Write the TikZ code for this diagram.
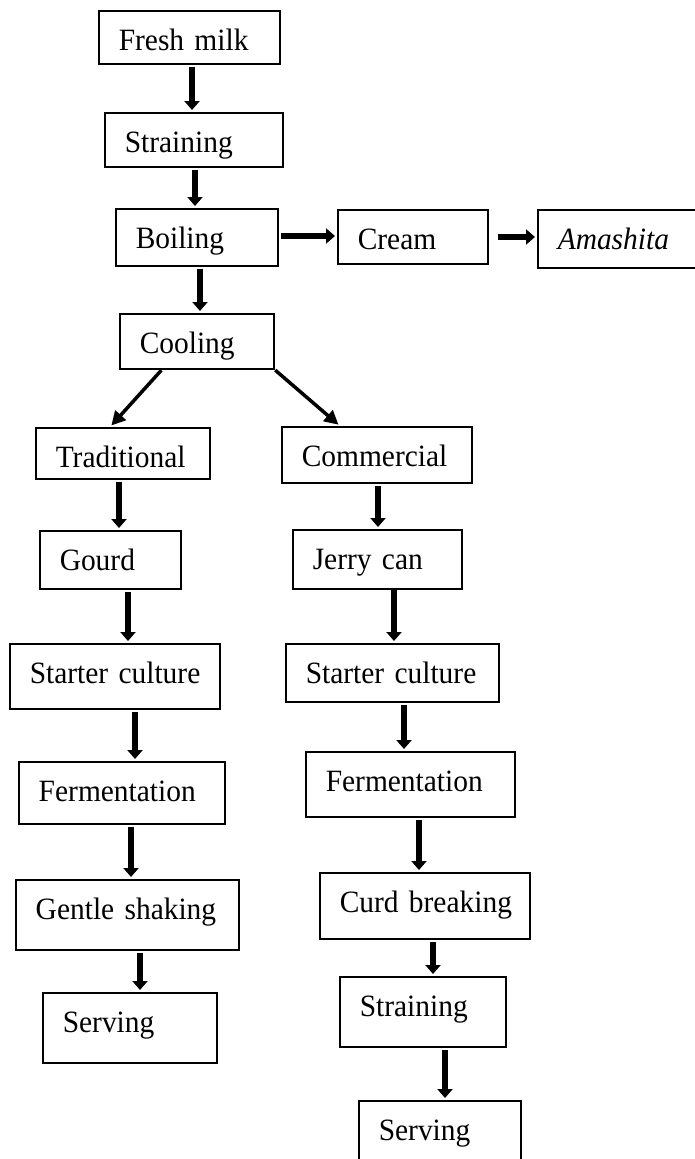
\documentclass[tikz,border=0pt]{standalone}
\usepackage{fontspec}
\setmainfont{Liberation Serif}[FakeStretch=0.95]
\usepackage{tikz}
\usetikzlibrary{arrows.meta}

\tikzset{
  box/.style 2 args={draw, line width=1.5pt, inner sep=0pt, anchor=north west,
    align=left, text width=#1, text height=40pt, text depth=#2,
    font=\fontsize{31}{36}\selectfont, execute at begin node={\hspace*{20pt}}},
  arr/.style={line width=6.5pt, -{Triangle[width=15pt,length=9pt]},
    shorten <=2pt, shorten >=2pt},
  diag/.style={line width=3.5pt, -{Triangle[width=14pt,length=14pt]},
    shorten <=1pt, shorten >=2pt}
}

\begin{document}
\begin{tikzpicture}[x=1pt, y=-1pt]
\useasboundingbox (0, 0) rectangle (694, 1159);
\node [box={181pt}{13pt}] (fresh) at (98, 10) {Fresh milk};
\node [box={178pt}{14pt}] (strain) at (104, 112) {Straining};
\node [box={162pt}{17pt}] (boil) at (115, 208) {Boiling};
\node [box={150pt}{14pt}] (cream) at (337, 209) {Cream};
\node [box={170pt}{18pt}] (amash) at (537, 209) {\itshape Amashita};
\node [box={154pt}{15pt}] (cool) at (119, 313) {Cooling};
\node [box={174pt}{11pt}] (trad) at (35, 427) {Traditional};
\node [box={190pt}{16pt}] (comm) at (281, 426) {Commercial};
\node [box={141pt}{18pt}] (gourd) at (39, 530) {Gourd};
\node [box={169pt}{19pt}] (jerry) at (292, 529) {Jerry can};
\node [box={210pt}{25pt}] (startL) at (9, 643) {Starter culture};
\node [box={213pt}{18pt}] (startR) at (285, 643) {Starter culture};
\node [box={206pt}{22pt}] (fermL) at (18, 761) {Fermentation};
\node [box={209pt}{25pt}] (fermR) at (305, 751) {Fermentation};
\node [box={223pt}{30pt}] (shake) at (15, 879) {Gentle shaking};
\node [box={210pt}{26pt}] (curd) at (319, 872) {Curd breaking};
\node [box={174pt}{30pt}] (serveL) at (42, 992) {Serving};
\node [box={166pt}{30pt}] (strainR) at (339, 976) {Straining};
\node [box={162pt}{35pt}] (serveR) at (358, 1100) {Serving};
\draw [arr] (fresh.south -| 192,0) -- (strain.north -| 192,0);
\draw [arr] (strain.south -| 195,0) -- (boil.north -| 195,0);
\draw [arr] (boil.south -| 200,0) -- (cool.north -| 200,0);
\draw [arr] (boil.east |- 0,236) -- (cream.west |- 0,236);
\draw [arr] ([xshift=7pt]cream.east |- 0,237) -- (amash.west |- 0,237);
\draw [diag] (cool.south -| 162,0) -- (trad.north -| 110,0);
\draw [diag] (cool.south east) -- (comm.north -| 340,0);
\draw [arr] (trad.south -| 119,0) -- (gourd.north -| 119,0);
\draw [arr] (gourd.south -| 128,0) -- (startL.north -| 128,0);
\draw [arr] (startL.south -| 135,0) -- (fermL.north -| 135,0);
\draw [arr] (fermL.south -| 131,0) -- (shake.north -| 131,0);
\draw [arr] (shake.south -| 140,0) -- (serveL.north -| 140,0);
\draw [arr] (comm.south -| 378,0) -- (jerry.north -| 378,0);
\draw [arr] ([yshift=4pt]jerry.south -| 394,0) -- (startR.north -| 394,0);
\draw [arr] (startR.south -| 404,0) -- (fermR.north -| 404,0);
\draw [arr] (fermR.south -| 419,0) -- (curd.north -| 419,0);
\draw [arr] (curd.south -| 433,0) -- (strainR.north -| 433,0);
\draw [arr] (strainR.south -| 445,0) -- (serveR.north -| 445,0);
\end{tikzpicture}
\end{document}
